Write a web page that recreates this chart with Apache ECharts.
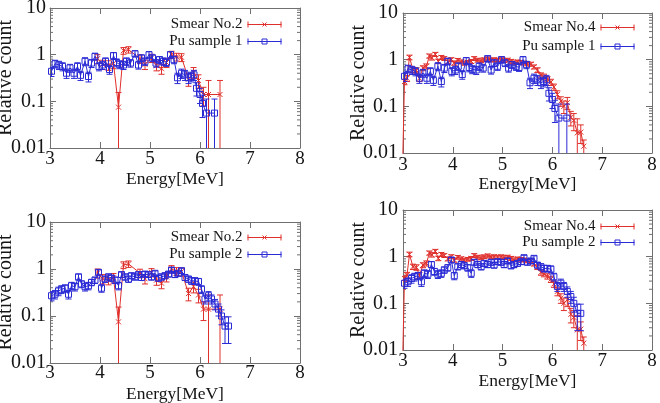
<!DOCTYPE html>
<html><head><meta charset="utf-8">
<script src="https://cdn.jsdelivr.net/npm/echarts@6/dist/echarts.min.js"></script>
<style>html,body{margin:0;padding:0;background:#fff}#c{width:660px;height:403px}</style>
</head><body><div id="c"></div>
<script>
// ---------- data ----------
const xTicks = [3, 4, 5, 6, 7, 8];
const yTickValues = [0.01, 0.1, 1, 10];
const yTickLabels = ['0.01', '0.1', '1', '10'];
const yMinorTicks = [0.02,0.03,0.04,0.05,0.06,0.07,0.08,0.09,0.2,0.3,0.4,0.5,0.6,0.7,0.8,0.9,2,3,4,5,6,7,8,9];

// Pu sample 1
const pu1E = [3.03,3.10,3.18,3.25,3.33,3.40,3.48,3.55,3.61,3.70,3.77,3.83,3.90,3.98,4.05,4.11,4.19,4.27,4.33,4.39,4.47,4.53,4.61,4.70,4.77,4.83,4.90,4.98,5.05,5.12,5.19,5.27,5.33,5.41,5.48,5.55,5.63,5.70,5.77,5.82,5.88,5.93,6.00,6.05,6.13,6.29];
const pu1V = [0.44,0.64,0.60,0.56,0.40,0.52,0.40,0.56,0.36,0.72,0.34,0.66,0.92,0.56,0.60,0.72,0.48,0.95,0.68,0.62,0.60,0.72,0.66,1.05,0.60,0.85,0.72,1.00,0.85,0.66,0.78,0.72,0.68,1.00,0.78,0.32,0.40,0.37,0.32,0.34,0.37,0.19,0.14,0.09,0.056,0.056];
const pu1Err = [0.1,0.12,0.12,0.11,0.09,0.1,0.09,0.11,0.08,0.14,0.08,0.13,0.15,0.11,0.12,0.13,0.1,0.16,0.13,0.12,0.12,0.13,0.12,0.16,0.11,0.14,0.13,0.16,0.14,0.12,0.13,0.13,0.12,0.16,0.14,0.08,0.09,0.09,0.08,0.08,0.09,0.06,0.05,0.045,0.056,0.056];

// Pu sample 2
const pu2E = [3.03,3.10,3.17,3.23,3.30,3.37,3.43,3.50,3.57,3.63,3.70,3.77,3.83,3.90,3.97,4.03,4.10,4.17,4.23,4.30,4.37,4.43,4.50,4.57,4.63,4.70,4.77,4.83,4.90,4.97,5.03,5.10,5.17,5.23,5.30,5.37,5.43,5.50,5.57,5.63,5.70,5.77,5.83,5.90,5.97,6.03,6.10,6.17,6.23,6.30,6.37,6.43,6.50,6.57];
const pu2V = [0.27,0.29,0.34,0.37,0.39,0.29,0.44,0.42,0.68,0.48,0.42,0.44,0.52,0.58,0.85,0.39,0.61,0.68,0.64,0.58,0.44,0.76,0.68,0.61,0.72,0.68,0.76,0.66,0.78,0.76,0.68,0.81,0.64,0.68,0.72,0.78,0.95,0.76,0.81,0.92,0.66,0.61,0.56,0.56,0.54,0.37,0.23,0.27,0.23,0.18,0.14,0.10,0.061,0.061];
const pu2Err = [0.06,0.06,0.07,0.07,0.07,0.06,0.08,0.08,0.1,0.08,0.08,0.08,0.08,0.09,0.11,0.07,0.09,0.1,0.09,0.09,0.08,0.1,0.1,0.09,0.1,0.1,0.1,0.09,0.1,0.1,0.1,0.1,0.09,0.1,0.1,0.1,0.12,0.1,0.1,0.12,0.09,0.09,0.09,0.09,0.09,0.07,0.05,0.06,0.05,0.045,0.04,0.035,0.035,0.035];

// Smear No.2
const sm2E = [3.95,4.05,4.17,4.27,4.37,4.47,4.57,4.80,4.90,5.03,5.13,5.23,5.33,5.43,5.53,5.63,5.77,5.87,5.97,6.07,6.17,6.40];
const sm2V = [0.82,0.62,0.60,0.65,0.075,1.22,1.28,0.82,0.62,0.85,0.58,0.50,0.68,1.00,0.90,0.88,0.30,0.42,0.28,0.14,0.14,0.14];
const sm2Err = [0.18,0.14,0.14,0.15,0.08,0.2,0.2,0.17,0.14,0.17,0.13,0.12,0.15,0.18,0.17,0.17,0.09,0.11,0.09,0.06,0.14,0.14];

// Smear No.4 (first point lies below the plotted range)
const sm4E = [2.97,3.03,3.08,3.13,3.20,3.27,3.33,3.40,3.47,3.53,3.58,3.65,3.71,3.77,3.83,3.90,3.97,4.03,4.10,4.17,4.23,4.30,4.37,4.43,4.50,4.57,4.63,4.70,4.77,4.83,4.90,4.97,5.03,5.10,5.17,5.23,5.30,5.37,5.43,5.50,5.57,5.63,5.70,5.77,5.83,5.90,5.97,6.03,6.10,6.17,6.23,6.30,6.37,6.43,6.50,6.57,6.63];
const sm4V = [0.0005,0.34,0.40,1.12,0.61,0.59,0.40,0.66,0.72,1.20,1.10,1.30,0.92,1.12,1.06,0.90,1.00,0.85,0.97,0.90,0.84,0.88,0.92,1.06,0.98,0.95,1.00,1.04,0.98,1.00,0.98,1.00,0.96,0.98,0.92,0.86,0.90,0.88,0.85,0.82,0.80,0.70,0.60,0.46,0.43,0.38,0.33,0.26,0.18,0.13,0.10,0.12,0.058,0.050,0.027,0.028,0.014];
const sm4Err = [0,0.05,0.06,0.13,0.08,0.08,0.06,0.08,0.09,0.12,0.12,0.13,0.10,0.11,0.10,0.09,0.10,0.09,0.09,0.09,0.08,0.08,0.09,0.10,0.09,0.09,0.09,0.10,0.09,0.09,0.09,0.09,0.09,0.09,0.09,0.08,0.08,0.08,0.08,0.08,0.08,0.07,0.07,0.06,0.06,0.05,0.05,0.04,0.035,0.03,0.03,0.035,0.02,0.02,0.027,0.012,0.005];

const xTitle = 'Energy[MeV]';
const yTitle = 'Relative count';

// ---------- styling / layout ----------
const FONT = '"Liberation Serif", "Times New Roman", serif';
const RED = '#e0302c';
const BLUE = '#2b2bd6';
const AXIS = '#707070';
const TXT = '#151515';
const XMARK = 'path://M0,0L10,10M10,0L0,10';
const KEY_X = 'path://M0,4L34,4M0.5,1L0.5,7M33.5,1L33.5,7M15,2L19,6M19,2L15,6M0,0M34,8';
const KEY_SQ = 'path://M0,4L34,4M0.5,1L0.5,7M33.5,1L33.5,7M14.5,1.5L19.5,1.5L19.5,6.5L14.5,6.5Z M0,0M34,8';

const seriesByName = {
  'Smear No.2': {E: sm2E, V: sm2V, Err: sm2Err},
  'Smear No.4': {E: sm4E, V: sm4V, Err: sm4Err},
  'Pu sample 1': {E: pu1E, V: pu1V, Err: pu1Err},
  'Pu sample 2': {E: pu2E, V: pu2V, Err: pu2Err}
};

const panels = [
  {grid: {left: 50, top: 8, width: 250, height: 140}, red: 'Smear No.2', blue: 'Pu sample 1',
   legend: {right: 373, top: 12, gap: 2}, xm: 2, xg: 22, ym: 4, yg: 34},
  {grid: {left: 403, top: 13, width: 249, height: 140}, red: 'Smear No.4', blue: 'Pu sample 1',
   legend: {right: 20, top: 15, gap: 4}, xm: 3, xg: 22, ym: 5, yg: 34},
  {grid: {left: 50, top: 222, width: 250, height: 141}, red: 'Smear No.2', blue: 'Pu sample 2',
   legend: {right: 373, top: 225, gap: 2}, xm: 1, xg: 22, ym: 4, yg: 34},
  {grid: {left: 403, top: 210, width: 249, height: 140}, red: 'Smear No.4', blue: 'Pu sample 2',
   legend: {right: 20, top: 214, gap: 1}, xm: 2, xg: 22, ym: 5, yg: 34}
];

function yFmt(v) {
  let best = 0;
  for (let i = 0; i < yTickValues.length; i++) {
    if (Math.abs(Math.log10(v) - Math.log10(yTickValues[i])) < Math.abs(Math.log10(v) - Math.log10(yTickValues[best]))) best = i;
  }
  return yTickLabels[best];
}

function errRender(color) {
  return function (params, api) {
    const x = api.value(0), v = api.value(1), e = api.value(2);
    if (x < xTicks[0] || x > xTicks[xTicks.length - 1]) return null;
    const cs = params.coordSys;
    const top = cs.y, bottom = cs.y + cs.height;
    const p = api.coord([x, v]);
    let yHi = api.coord([x, v + e])[1];
    const lo = v - e;
    let yLo = lo > 0 ? api.coord([x, lo])[1] : bottom + 10;
    const capHi = yHi >= top, capLo = yLo <= bottom;
    yHi = Math.max(yHi, top); yLo = Math.min(yLo, bottom);
    const st = {stroke: color, lineWidth: 1, fill: null};
    const ch = [{type: 'line', shape: {x1: p[0], y1: yHi, x2: p[0], y2: yLo}, style: st}];
    if (capHi) ch.push({type: 'line', shape: {x1: p[0] - 3, y1: yHi, x2: p[0] + 3, y2: yHi}, style: st});
    if (capLo) ch.push({type: 'line', shape: {x1: p[0] - 3, y1: yLo, x2: p[0] + 3, y2: yLo}, style: st});
    return {type: 'group', children: ch};
  };
}

function minorRender(params, api) {
  const cs = params.coordSys;
  const y = api.coord([xTicks[0], api.value(1)])[1];
  const st = {stroke: AXIS, lineWidth: 1};
  return {type: 'group', children: [
    {type: 'line', shape: {x1: cs.x, y1: y, x2: cs.x + 3, y2: y}, style: st},
    {type: 'line', shape: {x1: cs.x + cs.width - 3, y1: y, x2: cs.x + cs.width, y2: y}, style: st}
  ]};
}

const option = {animation: false, backgroundColor: '#fff', grid: [], xAxis: [], yAxis: [], legend: [], series: []};

panels.forEach((pn, i) => {
  option.grid.push(Object.assign({containLabel: false, outerBoundsMode: 'none'}, pn.grid));
  const xBase = {gridIndex: i, type: 'value', min: xTicks[0], max: xTicks[xTicks.length - 1], interval: 1,
    nameMoveOverlap: false,
    splitLine: {show: false}, axisLine: {show: true, onZero: false, lineStyle: {color: AXIS, width: 1}},
    axisTick: {show: true, inside: true, length: 6, lineStyle: {color: AXIS}}};
  option.xAxis.push(Object.assign({}, xBase, {position: 'bottom',
    axisLabel: {show: true, fontFamily: FONT, fontSize: 19, color: TXT, margin: pn.xm},
    name: xTitle, nameLocation: 'middle', nameGap: pn.xg,
    nameTextStyle: {fontFamily: FONT, fontSize: 17.5, color: TXT}}));
  option.xAxis.push(Object.assign({}, xBase, {position: 'top', axisLabel: {show: false}}));
  const yBase = {gridIndex: i, type: 'log', logBase: 10, min: yTickValues[0], max: yTickValues[yTickValues.length - 1],
    nameMoveOverlap: false,
    splitLine: {show: false}, axisLine: {show: true, onZero: false, lineStyle: {color: AXIS, width: 1}},
    axisTick: {show: true, inside: true, length: 6, lineStyle: {color: AXIS}}};
  option.yAxis.push(Object.assign({}, yBase, {position: 'left',
    axisLabel: {show: true, fontFamily: FONT, fontSize: 20, color: TXT, margin: pn.ym, formatter: yFmt},
    name: yTitle, nameLocation: 'middle', nameGap: pn.yg, nameRotate: 90,
    nameTextStyle: {fontFamily: FONT, fontSize: 20, color: TXT}}));
  option.yAxis.push(Object.assign({}, yBase, {position: 'right', axisLabel: {show: false}}));

  const xi = 2 * i, yi = 2 * i;
  const r = seriesByName[pn.red], b = seriesByName[pn.blue];
  option.series.push({type: 'line', name: pn.red, xAxisIndex: xi, yAxisIndex: yi,
    data: r.E.map((e, k) => [e, r.V[k]]), symbol: XMARK, symbolSize: 5, showAllSymbol: true, clip: true,
    lineStyle: {color: RED, width: 1}, itemStyle: {color: RED, borderColor: RED, borderWidth: 1}, z: 2});
  option.series.push({type: 'custom', name: 'err-' + pn.red + i, xAxisIndex: xi, yAxisIndex: yi,
    data: r.E.map((e, k) => [e, r.V[k], r.Err[k]]), renderItem: errRender(RED), encode: {x: 0, y: 1}, clip: true, z: 2});
  option.series.push({type: 'line', name: pn.blue, xAxisIndex: xi, yAxisIndex: yi,
    data: b.E.map((e, k) => [e, b.V[k]]), symbol: 'rect', symbolSize: 6, showAllSymbol: true, clip: true,
    lineStyle: {color: BLUE, width: 1}, itemStyle: {color: 'rgba(255,255,255,0)', borderColor: BLUE, borderWidth: 1}, z: 3});
  option.series.push({type: 'custom', name: 'err-' + pn.blue + i, xAxisIndex: xi, yAxisIndex: yi,
    data: b.E.map((e, k) => [e, b.V[k], b.Err[k]]), renderItem: errRender(BLUE), encode: {x: 0, y: 1}, clip: true, z: 3});
  option.series.push({type: 'custom', name: 'minor' + i, xAxisIndex: xi, yAxisIndex: yi, silent: true,
    data: yMinorTicks.map(v => [xTicks[0], v]), renderItem: minorRender, encode: {x: 0, y: 1}, z: 1});

  option.legend.push({orient: 'vertical', right: pn.legend.right, top: pn.legend.top, align: 'right',
    itemWidth: 34, itemHeight: 8, itemGap: pn.legend.gap, selectedMode: false, symbolKeepAspect: false,
    textStyle: {fontFamily: FONT, fontSize: 15, color: TXT},
    data: [
      {name: pn.red, icon: KEY_X, itemStyle: {color: 'rgba(0,0,0,0)', borderColor: RED, borderWidth: 1}},
      {name: pn.blue, icon: KEY_SQ, itemStyle: {color: 'rgba(0,0,0,0)', borderColor: BLUE, borderWidth: 1}}
    ]});
});

const chart = echarts.init(document.getElementById('c'), null, {renderer: 'canvas'});
chart.setOption(option);
</script></body></html>
